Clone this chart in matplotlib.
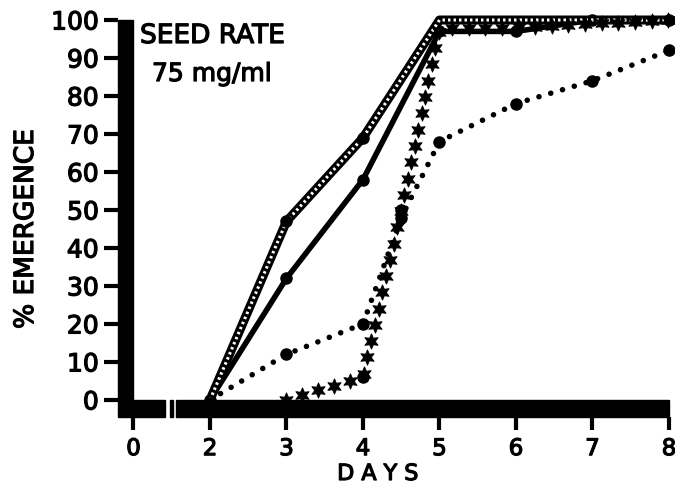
import numpy as np
import matplotlib
matplotlib.use("Agg")
import matplotlib.pyplot as plt
import matplotlib.patheffects as pe
from matplotlib.patches import Rectangle
from matplotlib.patheffects import AbstractPathEffect
from matplotlib.path import Path
from matplotlib.markers import MarkerStyle
from matplotlib.transforms import Affine2D, IdentityTransform

# dados (dias, % emergencia)
dias_solida = [2, 3, 4, 5, 6, 7, 8]
emerg_solida = [0, 32, 58, 97, 97, 100, 100]

dias_corda = [2, 3, 4, 5, 6, 7, 8]
emerg_corda = [0, 47, 69, 100, 100, 100, 100]

dias_pontilhada = [2, 3, 4, 4.5, 5, 6, 7, 8]
emerg_pontilhada = [0, 12, 20, 48, 68, 78, 84, 92]

dias_estrela = [3, 4, 4.5, 5, 6, 7, 8]
emerg_estrela = [0, 6, 50, 98, 98, 99, 100]

ticks_dias = [0, 2, 3, 4, 5, 6, 7, 8]
ticks_emerg = list(range(0, 101, 10))


#eixo quebrado: dia 0 fica uma unidade antes do dia 2
def PosicaoX(d):
    d = np.asarray(d, dtype=float)
    return np.where(d < 1.5, d + 1.0, d)


#estrelas ao longo da linha
class LinhaEstrelas(AbstractPathEffect):
    def __init__(self, espaco=12, tamanho=9):
        super().__init__()
        self.espaco = espaco
        self.tamanho = tamanho

    def draw_path(self, renderer, gc, tpath, affine, rgbFace=None):
        v = affine.transform(tpath.vertices)
        d = np.hypot(*np.diff(v, axis=0).T)
        cum = np.concatenate([[0], np.cumsum(d)])
        s = np.arange(0, cum[-1] + 1, renderer.points_to_pixels(self.espaco))
        pts = np.column_stack([np.interp(s, cum, v[:, 0]), np.interp(s, cum, v[:, 1])])
        m = MarkerStyle((6, 1, 0))
        mpath = m.get_path().transformed(m.get_transform())
        gc0 = renderer.new_gc()
        gc0.copy_properties(gc)
        gc0.set_linewidth(0.6)
        gc0.set_dashes(0, None)
        esc = renderer.points_to_pixels(self.tamanho)
        renderer.draw_markers(gc0, mpath, Affine2D().scale(esc), Path(pts),
                              IdentityTransform(), (0, 0, 0, 1))
        gc0.restore()


def main():
    plt.rcParams['font.family'] = ['DejaVu Sans']
    grosso = [pe.withStroke(linewidth=0.9, foreground='black')]
    fig = plt.figure(figsize=(6.75, 4.88), dpi=100)
    ax = fig.add_axes([0.1751, 0.1455, 0.816, 0.8135])
    ax.set_xlim(0.8, 8.0)
    ax.set_ylim(-4.5, 100)
    for s in ax.spines.values():
        s.set_visible(False)

    #eixos grossos
    ax.add_patch(Rectangle((0.8, -4.5), 0.2, 104.5, color='black', clip_on=False, zorder=5))
    ax.add_patch(Rectangle((1.0, -4.5), 0.41, 4.5, color='black', clip_on=False, zorder=5))
    ax.add_patch(Rectangle((1.48, -4.5), 0.03, 4.5, color='black', clip_on=False, zorder=5))
    ax.add_patch(Rectangle((1.56, -4.5), 6.44, 4.5, color='black', clip_on=False, zorder=5))

    #linha solida
    ax.plot(PosicaoX(dias_solida), emerg_solida, color='black', lw=4,
            marker='o', ms=8, solid_capstyle='round', clip_on=False, zorder=3)
    #linha corda
    x = PosicaoX(dias_corda)
    ax.plot(x, emerg_corda, color='black', lw=6.5, solid_capstyle='round',
            clip_on=False, zorder=3)
    ax.plot(x, emerg_corda, color='white', lw=2.2, linestyle=(0, (0.8, 1.0)),
            clip_on=False, zorder=3)
    ax.plot(x[1:3], emerg_corda[1:3], 'o', color='black', ms=8, clip_on=False, zorder=3)
    #linha pontilhada
    x = PosicaoX(dias_pontilhada)
    ax.plot(x, emerg_pontilhada, color='black', lw=4, linestyle=(0, (0.01, 2.2)),
            dash_capstyle='round', clip_on=False, zorder=3)
    ax.plot(x[1:], emerg_pontilhada[1:], 'o', color='black', ms=8, clip_on=False, zorder=3)
    #linha de estrelas
    x = PosicaoX(dias_estrela)
    ax.plot(x, emerg_estrela, color='black', lw=1, clip_on=False, zorder=4,
            path_effects=[LinhaEstrelas(espaco=12, tamanho=11)])
    ax.plot(x[1:3], emerg_estrela[1:3], 'o', color='black', ms=8, clip_on=False, zorder=4)

    ax.set_xticks(PosicaoX(ticks_dias))
    ax.set_xticklabels([str(t) for t in ticks_dias])
    ax.set_yticks(ticks_emerg)
    ax.set_yticklabels([str(t) for t in ticks_emerg])
    ax.tick_params(axis='both', direction='out', width=3)
    ax.tick_params(axis='x', length=9.5, labelsize=16.5, pad=5)
    ax.tick_params(axis='y', length=10, labelsize=18, pad=4)
    for t in ax.get_xticklabels() + ax.get_yticklabels():
        t.set_path_effects(grosso)

    ax.set_xlabel('D A Y S', fontsize=16, path_effects=grosso)
    ax.xaxis.label.set_va('baseline')
    ax.xaxis.set_label_coords((378 - 118.2) / 550.8, (417 - 480) / 397)
    ax.set_ylabel('% EMERGENCE', fontsize=19, path_effects=grosso)
    ax.yaxis.set_label_coords((39 - 118.2) / 550.8, (417 - 229) / 397)

    fig.text(140 / 675, 1 - 43 / 488, 'SEED RATE', fontsize=19, va='baseline', path_effects=grosso)
    fig.text(152 / 675, 1 - 81 / 488, '75 mg/ml', fontsize=18, va='baseline', path_effects=grosso)

    fig.savefig('out.png', dpi=100)
    return 0


if __name__ == "__main__":
    SystemExit(main())
